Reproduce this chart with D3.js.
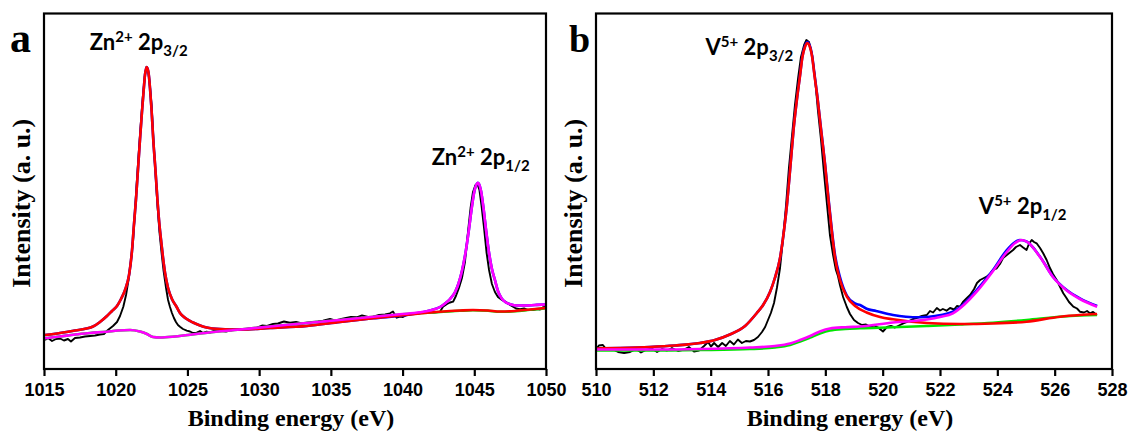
<!DOCTYPE html>
<html>
<head>
<meta charset="utf-8">
<script src="https://cdn.jsdelivr.net/npm/d3@7"></script>
<style>
  body { margin: 0; background: #fff; }
  svg { display: block; }
</style>
</head>
<body>
<svg id="chart" width="1135" height="436"></svg>
<script>
// ---------- Zn 2p spectrum (binding energy in eV, intensity in a.u.) ----------
const znTicks = [1015, 1020, 1025, 1030, 1035, 1040, 1045, 1050];

const znRaw = [
  [1015.07,29.0],[1015.28,31.0],[1015.56,28.0],[1015.84,30.0],[1016.12,30.5],[1016.39,28.5],
  [1016.67,30.0],[1016.88,27.5],[1017.16,31.0],[1017.51,31.5],[1017.86,32.5],[1018.21,33.0],
  [1018.56,33.5],[1018.90,34.5],[1019.18,35.0],[1019.46,39.0],[1019.81,43.0],[1020.09,47.0],
  [1020.30,53.0],[1020.53,62.3],[1020.72,74.0],[1020.89,89.0],[1021.07,109.0],[1021.21,129.0],
  [1021.34,157.0],[1021.48,189.0],[1021.62,219.0],[1021.76,247.0],[1021.90,274.0],[1022.04,294.0],
  [1022.15,302.0],[1022.25,299.0],[1022.36,287.0],[1022.50,264.0],[1022.63,229.0],[1022.77,197.0],
  [1022.91,164.0],[1023.05,137.0],[1023.19,117.0],[1023.33,99.0],[1023.51,81.0],[1023.65,69.0],
  [1023.78,62.3],[1023.92,56.0],[1024.06,51.0],[1024.20,47.0],[1024.34,44.0],[1024.48,42.3],
  [1024.69,40.0],[1024.95,38.3],[1025.18,37.5],[1025.39,36.0],[1025.65,36.3],[1025.88,38.0],
  [1026.09,36.0],[1026.34,37.3],[1026.57,36.5],[1026.85,38.0],[1027.27,38.3],[1027.69,37.5],
  [1028.11,39.0],[1028.67,39.0],[1029.08,40.0],[1029.50,40.5],[1029.85,41.3],[1030.20,43.5],
  [1030.55,43.0],[1030.97,45.0],[1031.31,45.5],[1031.73,47.5],[1032.15,46.3],[1032.57,47.0],
  [1032.99,45.5],[1033.32,46.3],[1033.69,47.0],[1034.10,47.5],[1034.45,48.3],[1034.94,50.0],
  [1035.29,48.5],[1035.64,49.7],[1036.06,51.0],[1036.40,52.0],[1036.80,51.7],[1037.17,53.5],
  [1037.59,52.0],[1037.94,52.3],[1038.36,54.0],[1038.78,54.5],[1039.12,55.7],[1039.33,57.5],
  [1039.59,51.3],[1039.82,52.5],[1040.03,52.0],[1040.29,54.0],[1040.66,55.0],[1041.01,55.5],
  [1041.42,56.3],[1041.84,57.0],[1042.19,56.5],[1042.61,57.3],[1042.82,62.3],[1043.10,65.0],
  [1043.31,66.5],[1043.52,67.3],[1043.72,73.0],[1043.93,81.0],[1044.14,91.0],[1044.35,107.0],
  [1044.56,137.0],[1044.74,161.0],[1044.91,177.0],[1045.08,184.0],[1045.22,185.0],[1045.36,179.0],
  [1045.50,164.0],[1045.68,141.0],[1045.85,117.0],[1046.03,99.0],[1046.23,85.0],[1046.44,77.0],
  [1046.65,72.0],[1046.93,69.0],[1047.21,67.0],[1047.49,64.0],[1047.70,62.3],[1047.91,60.5],
  [1048.19,59.7],[1048.47,60.5],[1048.74,59.0],[1049.09,59.0],[1049.37,60.0],[1049.58,59.5],
  [1049.79,61.7],[1050.00,62.0]
];

// 2p3/2 component on background
const znFit32 = [
  [1015.07,34.0],[1016.12,36.0],[1017.16,38.5],[1018.42,42.5],[1018.90,47.0],[1019.39,53.0],
  [1019.74,58.0],[1020.09,63.0],[1020.37,70.0],[1020.65,79.0],[1020.93,94.0],[1021.14,119.0],
  [1021.27,144.0],[1021.41,169.0],[1021.55,199.0],[1021.69,229.0],[1021.83,257.0],[1021.94,277.0],
  [1022.04,294.0],[1022.16,302.0],[1022.29,296.0],[1022.39,281.0],[1022.50,259.0],[1022.62,229.0],
  [1022.77,199.0],[1022.91,169.0],[1023.05,144.0],[1023.16,129.0],[1023.30,111.0],[1023.44,96.0],
  [1023.65,81.0],[1023.92,70.0],[1024.25,62.0],[1024.48,56.0],[1024.90,50.5],[1025.39,46.5],
  [1025.88,43.5],[1026.34,41.5],[1027.27,40.0],[1028.67,39.5],[1030.76,41.0],[1033.32,43.0],
  [1035.64,47.0],[1037.94,50.7],[1040.52,54.5],[1042.61,57.3],[1044.00,58.5],[1044.91,59.0],
  [1045.96,58.5],[1046.79,57.5],[1047.84,58.0],[1048.88,59.5],[1050.00,61.0]
];

// 2p1/2 component on background
const znFit12 = [
  [1015.07,30.7],[1016.12,32.5],[1017.16,34.5],[1018.21,36.0],[1019.37,37.3],[1020.16,38.5],
  [1021.00,39.0],[1021.69,37.5],[1022.18,35.0],[1022.60,32.0],[1023.09,31.5],[1024.13,32.5],
  [1025.88,35.5],[1028.67,39.5],[1031.45,43.5],[1034.24,47.2],[1037.03,51.0],[1039.82,54.7],
  [1041.21,56.7],[1041.91,58.5],[1042.61,62.0],[1042.96,65.5],[1043.31,70.0],[1043.66,77.0],
  [1043.89,85.0],[1044.14,98.0],[1044.42,119.0],[1044.63,140.0],[1044.84,163.0],[1045.01,178.0],
  [1045.15,184.5],[1045.24,186.3],[1045.33,185.0],[1045.47,178.0],[1045.64,161.0],[1045.82,139.0],
  [1046.03,116.0],[1046.23,100.0],[1046.44,89.0],[1046.65,78.0],[1046.91,70.5],[1047.21,66.5],
  [1047.56,64.5],[1047.96,63.5],[1048.54,63.5],[1049.23,64.0],[1050.00,64.5]
];

const znBackground = [
  [1015.07,30.7],[1016.12,32.5],[1017.16,34.5],[1018.21,36.0],[1019.37,37.3],[1020.16,38.5],
  [1021.00,39.0],[1021.69,37.5],[1022.18,35.0],[1022.60,32.0],[1023.09,31.5],[1024.13,32.5],
  [1025.88,35.5],[1028.67,39.5],[1031.45,43.5],[1034.24,47.2],[1037.03,51.0],[1039.82,54.4],
  [1041.21,56.0],[1042.61,57.0],[1044.00,58.2],[1044.91,58.7],[1045.96,58.2],[1046.79,57.2],
  [1047.84,57.7],[1048.88,59.2],[1050.00,60.7]
];

const znEnvelope = [
  [1015.07,34.0],[1016.12,36.0],[1017.16,38.5],[1018.42,42.5],[1018.90,47.0],[1019.39,53.0],
  [1019.74,58.0],[1020.09,63.0],[1020.37,70.0],[1020.65,79.0],[1020.93,94.0],[1021.14,119.0],
  [1021.27,144.0],[1021.41,169.0],[1021.55,199.0],[1021.69,229.0],[1021.83,257.0],[1021.94,277.0],
  [1022.04,294.0],[1022.16,302.0],[1022.29,296.0],[1022.39,281.0],[1022.50,259.0],[1022.62,229.0],
  [1022.77,199.0],[1022.91,169.0],[1023.05,144.0],[1023.16,129.0],[1023.30,111.0],[1023.44,96.0],
  [1023.65,81.0],[1023.92,70.0],[1024.25,62.0],[1024.48,56.0],[1024.90,50.5],[1025.39,46.5],
  [1025.88,43.5],[1026.34,41.5],[1027.27,40.0],[1028.67,39.5],[1030.76,41.0],[1033.32,43.0],
  [1035.64,47.0],[1037.94,50.7],[1040.52,54.5],[1041.91,58.5],[1042.61,62.0],[1042.96,65.5],
  [1043.31,70.0],[1043.66,77.0],[1043.89,85.0],[1044.14,98.0],[1044.42,119.0],[1044.63,140.0],
  [1044.84,163.0],[1045.01,178.0],[1045.15,184.5],[1045.24,186.3],[1045.33,185.0],[1045.47,178.0],
  [1045.64,161.0],[1045.82,139.0],[1046.03,116.0],[1046.23,100.0],[1046.44,89.0],[1046.65,78.0],
  [1046.91,70.5],[1047.21,66.5],[1047.56,64.5],[1047.96,63.5],[1048.54,63.5],[1049.23,64.0],
  [1050.00,64.5]
];

const znPeakNames = [
  { ion: "Zn", charge: "2+", level: "2p", j: "3/2", energy: 1022.16, intensity: 302.0 },
  { ion: "Zn", charge: "2+", level: "2p", j: "1/2", energy: 1045.24, intensity: 186.3 }
];

// ---------- V 2p spectrum ----------
const vTicks = [510, 512, 514, 516, 518, 520, 522, 524, 526, 528];

const vRaw = [
  [510.00,20.0],[510.10,23.5],[510.24,24.0],[510.38,19.0],[510.56,20.0],[510.77,17.0],
  [510.98,16.0],[511.19,17.0],[511.40,20.0],[511.57,16.5],[511.74,19.0],[511.95,20.5],
  [512.13,17.0],[512.30,20.0],[512.48,18.5],[512.65,21.0],[512.86,18.0],[513.07,19.5],
  [513.24,22.0],[513.42,17.5],[513.59,18.5],[513.77,23.0],[513.91,27.0],[514.01,22.5],
  [514.12,26.0],[514.26,22.0],[514.40,26.0],[514.53,23.0],[514.67,28.0],[514.81,24.5],
  [514.95,29.5],[515.09,26.0],[515.23,28.0],[515.37,27.5],[515.51,29.0],[515.65,32.0],
  [515.79,37.0],[515.90,42.0],[516.00,49.0],[516.10,56.0],[516.21,66.0],[516.31,81.0],
  [516.42,101.0],[516.52,129.0],[516.63,164.0],[516.73,201.0],[516.84,234.0],[516.94,264.0],
  [517.05,291.0],[517.15,312.0],[517.26,324.0],[517.34,329.0],[517.43,327.0],[517.54,314.0],
  [517.64,291.0],[517.74,259.0],[517.85,229.0],[517.95,197.0],[518.06,164.0],[518.16,134.0],
  [518.27,114.0],[518.37,99.0],[518.44,93.0],[518.51,84.0],[518.62,72.0],[518.75,62.0],
  [518.86,55.0],[519.00,49.0],[519.14,46.0],[519.28,44.0],[519.42,44.5],[519.56,42.3],
  [519.70,43.5],[519.84,41.5],[520.01,37.5],[520.15,42.0],[520.29,43.0],[520.43,41.5],
  [520.57,43.5],[520.72,45.7],[520.88,47.5],[521.06,50.0],[521.23,51.5],[521.37,53.0],
  [521.54,54.0],[521.65,58.0],[521.76,56.5],[521.89,61.0],[522.00,58.5],[522.10,60.0],
  [522.23,58.3],[522.35,61.0],[522.49,59.5],[522.59,63.0],[522.70,62.3],[522.80,67.0],
  [522.94,71.0],[523.05,74.0],[523.19,80.0],[523.29,86.0],[523.40,89.0],[523.50,90.5],
  [523.63,92.3],[523.74,95.0],[523.85,99.0],[523.98,100.7],[524.09,105.0],[524.20,111.0],
  [524.33,114.0],[524.44,116.5],[524.55,119.0],[524.65,122.0],[524.79,124.0],[524.90,121.5],
  [525.02,119.0],[525.10,125.0],[525.20,129.0],[525.28,127.0],[525.37,125.7],[525.49,121.0],
  [525.60,115.7],[525.72,109.0],[525.84,100.7],[525.94,95.0],[526.07,89.0],[526.19,82.0],
  [526.30,75.7],[526.40,71.5],[526.50,67.0],[526.65,62.3],[526.78,60.5],[526.88,57.3],
  [527.02,56.5],[527.13,58.0],[527.23,55.7],[527.34,57.0],[527.47,54.0]
];

const vFit32 = [
  [510.00,20.5],[510.84,21.0],[511.88,22.0],[512.76,23.5],[513.63,26.0],[514.15,29.0],
  [514.67,34.5],[515.20,43.0],[515.61,56.0],[515.83,64.0],[516.07,77.0],[516.24,91.0],
  [516.42,111.0],[516.56,139.0],[516.66,164.0],[516.77,199.0],[516.89,239.0],[517.02,272.3],
  [517.12,294.0],[517.20,312.0],[517.29,322.0],[517.37,326.0],[517.45,323.0],[517.54,312.0],
  [517.62,294.0],[517.72,272.3],[517.85,239.0],[517.99,204.0],[518.11,169.0],[518.22,139.0],
  [518.34,111.0],[518.51,89.0],[518.75,72.3],[519.04,63.0],[519.44,56.5],[519.91,52.0],
  [520.36,49.7],[521.54,46.0],[522.70,45.0],[523.85,45.5],[525.02,47.3],[526.19,52.3],
  [526.88,54.0],[527.48,55.0]
];

const vFit12 = [
  [510.00,19.5],[511.88,19.5],[513.63,20.0],[515.37,21.5],[516.24,23.0],[516.77,25.5],
  [517.12,29.0],[517.47,33.0],[517.81,37.5],[518.16,40.5],[518.69,41.8],[519.21,42.5],
  [520.36,46.5],[521.54,49.5],[522.00,52.0],[522.45,55.7],[522.87,65.0],[523.28,77.3],
  [523.85,98.0],[524.33,117.0],[524.62,126.0],[524.85,129.0],[525.07,126.5],[525.49,112.0],
  [525.94,92.0],[526.42,78.5],[526.88,70.0],[527.48,62.3]
];

const vBackground = [
  [510.00,18.5],[511.88,18.5],[513.63,19.0],[515.37,20.0],[516.24,21.5],[516.77,24.0],
  [517.12,27.5],[517.47,31.5],[517.81,35.5],[518.16,38.5],[518.69,40.0],[519.21,40.7],
  [520.36,41.7],[521.54,43.0],[522.70,44.5],[523.85,46.3],[525.02,49.0],[526.19,52.3],
  [526.88,53.5],[527.48,54.0]
];

const vEnvelope = [
  [510.00,20.5],[510.84,21.0],[511.88,22.0],[512.76,23.5],[513.63,26.0],[514.15,29.0],
  [514.67,34.5],[515.20,43.0],[515.61,56.0],[515.83,64.0],[516.07,77.0],[516.24,91.0],
  [516.42,111.0],[516.56,139.0],[516.66,164.0],[516.77,199.0],[516.89,239.0],[517.02,272.3],
  [517.12,294.5],[517.20,312.5],[517.29,323.0],[517.37,327.0],[517.45,324.0],[517.54,313.0],
  [517.62,295.0],[517.72,273.0],[517.85,240.0],[517.99,205.0],[518.11,170.5],[518.22,141.0],
  [518.34,113.5],[518.51,92.0],[518.75,73.5],[519.04,65.5],[519.21,64.0],[519.44,60.3],
  [519.77,58.0],[520.36,54.0],[520.81,52.3],[521.30,51.7],[521.83,53.0],[522.45,57.3],
  [522.87,66.0],[523.28,79.0],[523.85,99.0],[524.33,119.0],[524.62,127.0],[524.79,129.0],
  [525.02,127.5],[525.49,112.3],[525.94,92.3],[526.42,79.0],[526.88,70.7],[527.48,63.0]
];

const vPeakNames = [
  { ion: "V", charge: "5+", level: "2p", j: "3/2", energy: 517.37, intensity: 326.0 },
  { ion: "V", charge: "5+", level: "2p", j: "1/2", energy: 524.85, intensity: 129.0 }
];

const intensityRange = [0, 355.5];

// ---------- drawing ----------
const svg = d3.select("#chart");
const frameTop = 13.5, frameBottom = 369;

const colors = { raw: "#000000", p32: "#ff0000", p12: "#ff00ff", bg: "#00e600", env: "#0000ff" };

function drawPanel(opt) {
  const x = d3.scaleLinear().domain(opt.domain).range([opt.left, opt.right]);
  const y = d3.scaleLinear().domain(intensityRange).range([frameBottom, frameTop]);
  const g = svg.append("g");

  const smooth = d3.line().x(d => x(d[0])).y(d => y(d[1])).curve(d3.curveMonotoneX);
  const jagged = d3.line().x(d => x(d[0])).y(d => y(d[1]));

  g.append("path").attr("d", jagged(opt.raw)).attr("fill", "none")
    .attr("stroke", colors.raw).attr("stroke-width", 1.9).attr("stroke-linejoin", "round");

  [[opt.bg, colors.bg], [opt.env, colors.env], [opt.p32, colors.p32], [opt.p12, colors.p12]]
    .forEach(([data, c]) => {
      g.append("path").attr("d", smooth(data)).attr("fill", "none")
        .attr("stroke", c).attr("stroke-width", 2.6).attr("stroke-linejoin", "round");
    });

  // frame
  g.append("rect")
    .attr("x", opt.left).attr("y", frameTop)
    .attr("width", opt.right - opt.left).attr("height", frameBottom - frameTop)
    .attr("fill", "none").attr("stroke", "#000").attr("stroke-width", 2.2);

  // bottom axis
  const axis = d3.axisBottom(x).tickValues(opt.ticks).tickSize(7).tickPadding(7)
    .tickFormat(d3.format("d"));
  const ax = g.append("g").attr("transform", `translate(0,${frameBottom})`).call(axis);
  ax.select(".domain").remove();
  ax.selectAll(".tick line").attr("stroke", "#000").attr("stroke-width", 2.2);
  ax.selectAll(".tick text")
    .attr("fill", "#000")
    .style("font-family", "'Liberation Sans', Arial, sans-serif")
    .style("font-weight", "bold").style("font-size", "18px");

  // axis titles
  g.append("text")
    .attr("x", (opt.left + opt.right) / 2 - 4).attr("y", 426)
    .attr("text-anchor", "middle")
    .style("font-family", "'Liberation Serif', 'Times New Roman', serif")
    .style("font-weight", "bold").style("font-size", "24px")
    .text("Binding energy (eV)");

  g.append("text")
    .attr("transform", `translate(${opt.left - 14},${(frameTop + frameBottom) / 2 + 12}) rotate(-90)`)
    .attr("text-anchor", "middle")
    .style("font-family", "'Liberation Serif', 'Times New Roman', serif")
    .style("font-weight", "bold").style("font-size", "26px")
    .text("Intensity (a. u.)");

  // panel letter
  g.append("text")
    .attr("x", opt.left - opt.letterGap).attr("y", 52)
    .style("font-family", "'Liberation Serif', 'Times New Roman', serif")
    .style("font-weight", "bold").style("font-size", opt.letterSize + "px")
    .text(opt.letter);

  // peak names
  opt.names.forEach((p, i) => {
    const off = opt.nameOffsets[i];
    const t = g.append("text")
      .attr("x", x(p.energy) + off.dx).attr("y", y(p.intensity) + off.dy)
      .attr("text-anchor", off.anchor)
      .style("font-family", "Lato, 'Open Sans', sans-serif")
      .style("font-weight", "bold").style("font-size", "22px").attr("fill", "#000");
    t.append("tspan").text(p.ion);
    t.append("tspan").attr("dy", -8).style("font-size", "15px").text(p.charge);
    t.append("tspan").attr("dy", 8).text("\u00a0" + p.level);
    t.append("tspan").attr("dy", 6).style("font-size", "15px").text(p.j);
  });
}

drawPanel({
  letter: "a", letterSize: 42, letterGap: 34, domain: [1015, 1050], left: 44, right: 546, ticks: znTicks,
  raw: znRaw, p32: znFit32, p12: znFit12, bg: znBackground, env: znEnvelope,
  names: znPeakNames,
  nameOffsets: [{ dx: -8, dy: -17, anchor: "middle" }, { dx: 3, dy: -18, anchor: "middle" }]
});

drawPanel({
  letter: "b", letterSize: 38, letterGap: 27, domain: [510, 528], left: 596, right: 1112, ticks: vTicks,
  raw: vRaw, p32: vFit32, p12: vFit12, bg: vBackground, env: vEnvelope,
  names: vPeakNames,
  nameOffsets: [{ dx: -14, dy: 12, anchor: "end" }, { dx: 1, dy: -26, anchor: "middle" }]
});
</script>
</body>
</html>
